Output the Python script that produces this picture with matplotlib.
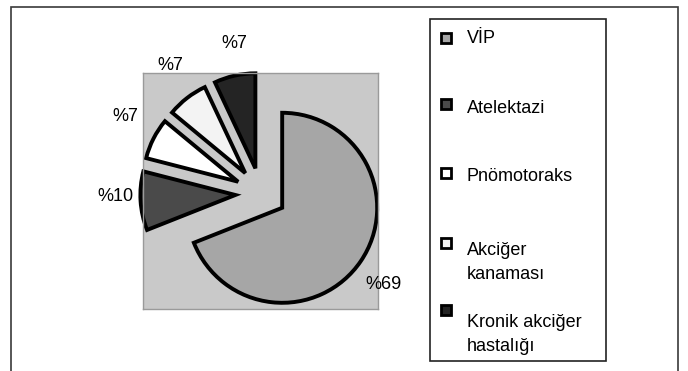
import numpy as np
import matplotlib
matplotlib.use("Agg")
import matplotlib.pyplot as plt
from matplotlib.patches import Rectangle

plt.rcParams['font.family'] = ['Liberation Sans', 'DejaVu Sans']

# complication share (%)
labels = ['VİP', 'Atelektazi', 'Pnömotoraks', 'Akciğer\nkanaması', 'Kronik akciğer\nhastalığı']
values = [69, 10, 7, 7, 7]
colors = ['#a6a6a6', '#4a4a4a', '#ffffff', '#f3f3f3', '#242424']

W, H = 688, 371
fig = plt.figure(figsize=(W / 100, H / 100), dpi=100)

def fx(px):
    return px / W

def fy(py):
    return 1 - py / H

# outer frame (open at the bottom)
fig.add_artist(Rectangle((fx(11), -0.05), fx(678) - fx(11), fy(7) + 0.05,
                         transform=fig.transFigure, fill=False,
                         edgecolor='#3a3a3a', linewidth=1.2))

# plot area with the exploded pie
ax = fig.add_axes([fx(143), fy(309), fx(378) - fx(143), fy(73) - fy(309)])
wedges, _ = ax.pie(values, colors=colors, startangle=90, counterclock=False,
                   explode=[0.27] * len(values), radius=1.0, frame=True,
                   wedgeprops=dict(edgecolor='black', linewidth=2.8))
for w in wedges:
    w.set_clip_on(False)
ax.set_aspect('auto')
ax.set_xlim(-1.242, 1.232)
ax.set_ylim(-1.217, 1.267)
ax.set_xticks([])
ax.set_yticks([])
ax.set_facecolor('#c9c9c9')
for s in ax.spines.values():
    s.set_edgecolor('#9a9a9a')
    s.set_linewidth(1.0)

# percentage labels outside each slice
lbl_r = [1.61, 1.53, 1.64, 1.65, 1.60]
for w, v, r in zip(wedges, values, lbl_r):
    mid = np.deg2rad((w.theta1 + w.theta2) / 2 - 2.5)
    ax.text(r * np.cos(mid), r * np.sin(mid), f'%{v}', ha='center', va='center',
            fontsize=13, color='black', clip_on=False)

# legend box
fig.add_artist(Rectangle((fx(430), fy(361)), fx(606) - fx(430), fy(19) - fy(361),
                         transform=fig.transFigure, fill=False,
                         edgecolor='#222222', linewidth=1.2))
marker_y = [38, 104, 173, 243, 310]
text_y = [43, 113, 181, 255, 327]
sq = 10
for lab, c, my, ty in zip(labels, colors, marker_y, text_y):
    fig.add_artist(Rectangle((fx(446 - sq / 2), fy(my + sq / 2)), fx(sq), sq / H,
                             transform=fig.transFigure, facecolor=c,
                             edgecolor='black', linewidth=2.0))
    for i, line in enumerate(lab.split('\n')):
        fig.text(fx(467), fy(ty + 24 * i), line, ha='left', va='baseline',
                 fontsize=13, color='black')

fig.savefig('out.png', dpi=100)
